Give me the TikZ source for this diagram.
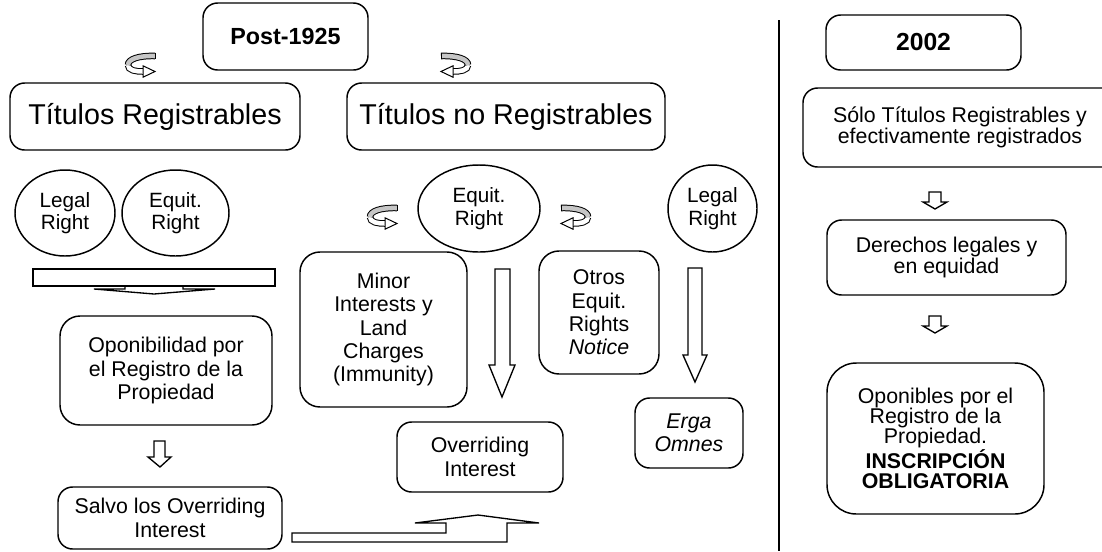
\documentclass[tikz,border=0pt]{standalone}
\usepackage{fontspec}
\setmainfont{Liberation Sans}
\usetikzlibrary{shapes.geometric}

% U-turn arrow: grey upper strand, white lower strand, open head
\newcommand{\uturnmark}[3]{%
  \begin{scope}[shift={(#1,#2)}, xscale=#3]
    \draw[line width=0.75pt, double=white, double distance=3.4pt]
      (-13,1) .. controls (-13,6.5) and (-5,7.5) .. (2,7.5);
    \draw[line width=0.75pt, double=gray!45, double distance=3.4pt]
      (14,-8) .. controls (-2,-8.5) and (-13,-5) .. (-13,1);
    \draw[line width=0.75pt] (14,-11.2) -- (14,-4.8);
    \draw[line width=0.75pt, fill=white, line join=miter] (2,1.8) -- (14,7.5) -- (2,13.2) -- cycle;
  \end{scope}}

\begin{document}
\begin{tikzpicture}[x=0.75pt, y=-0.75pt,
  every node/.style={inner sep=0pt, outer sep=0pt},
  box/.style={draw, line width=1.1pt, rounded corners=11pt, align=center,
    font=\fontsize{16}{17.5}\selectfont},
  rbox/.style={box, font=\fontsize{16}{15.5}\selectfont},
  titlebox/.style={box, font=\fontsize{21.5}{24}\selectfont,
    minimum height=50.25pt},
  yearbox/.style={box, font=\bfseries\fontsize{17.5}{20}\selectfont},
  oval/.style={draw, ellipse, line width=1.1pt, align=center,
    font=\fontsize{15.5}{17}\selectfont},
  blockarrow/.style={draw, line width=1pt, fill=white, line join=miter},
  divider/.style={line width=1.2pt},
]
\useasboundingbox (0,0) rectangle (1102,551);

% ---------- left part: post-1925 ----------
\node[yearbox, minimum width=123.75pt, minimum height=50.25pt] (post) at (285.5,36.5) {Post-1925};
\uturnmark{141}{64}{1}
\uturnmark{455}{64}{-1}

\node[titlebox, minimum width=217.5pt] (titR) at (155,116.5) {Títulos Registrables};
\node[titlebox, minimum width=238.5pt] (titN) at (506,116.5) {Títulos no Registrables};

\node[oval, minimum width=75pt, minimum height=64.5pt] (legL) at (65,213) {Legal\\Right};
\node[oval, minimum width=80.25pt, minimum height=64.5pt] (eqL) at (175.5,213) {Equit.\\Right};
\node[oval, minimum width=91.5pt, minimum height=65.25pt] (eqM) at (479,208.5) {Equit.\\Right};
\node[oval, minimum width=66.75pt, minimum height=65.25pt] (legR) at (712.5,208.5) {Legal\\Right};

\uturnmark{383}{216}{1}
\uturnmark{575}{216}{-1}

% bracket arrow under the registrable rights
\draw[blockarrow] (125,286) -- (125,289) -- (94,289) -- (154,294) -- (215,289) -- (183,289) -- (183,286);
\draw[blockarrow] (33,269) rectangle (275,286);

\node[box, rounded corners=15pt, minimum width=159pt, minimum height=81.75pt] (opL) at (166,370.5)
  {Oponibilidad por\\el Registro de la\\Propiedad};
\draw[blockarrow] (154,441) -- (165,441) -- (165,457) -- (171,457) -- (160,467) -- (148,457) -- (154,457) -- cycle;
\node[box, minimum width=168pt, minimum height=46.5pt] (salvo) at (170,518)
  {Salvo los Overriding\\Interest};

\node[box, rounded corners=15pt, minimum width=125.25pt, minimum height=116.25pt] (minor) at (383.5,329.5)
  {Minor\\Interests y\\Land\\Charges\\(Immunity)};
\draw[blockarrow] (495,269) -- (510,269) -- (510,365) -- (515,365) -- (502,397) -- (489,365) -- (495,365) -- cycle;
\node[box, rounded corners=15pt, minimum width=90pt, minimum height=92.25pt] (otros) at (599,312.5)
  {Otros\\Equit.\\Rights\\\textit{Notice}};
\draw[blockarrow] (688,268) -- (702,268) -- (702,355) -- (707,355) -- (695,382) -- (683,355) -- (688,355) -- cycle;
\node[box, minimum width=124.5pt, minimum height=52.5pt] (over) at (480,457) {Overriding\\Interest};
\node[box, minimum width=81pt, minimum height=52.5pt] (erga) at (689,433) {\textit{Erga}\\\textit{Omnes}};

% arrow back up to the overriding interests
\draw[blockarrow] (292,533) -- (446,533) -- (446,523) -- (415,523) -- (478,515) -- (539,523) -- (507,523) -- (507,542) -- (292,542) -- cycle;

% ---------- divider ----------
\coordinate (divtop) at (779,20);
\coordinate (divbot) at (779,551);
\draw[divider] (divtop) -- (divbot);

% ---------- right part: 2002 ----------
\node[yearbox, font=\bfseries\fontsize{18.5}{20}\selectfont, minimum width=146.25pt, minimum height=41.25pt] (y2002) at (923.5,42.5) {2002};
\node[rbox, minimum width=235.5pt, minimum height=59.25pt] (solo) at (960,127.5)
  {Sólo Títulos Registrables y\\efectivamente registrados};
\draw[blockarrow] (929,192) -- (941,192) -- (941,202) -- (947,202) -- (935,209) -- (923,202) -- (929,202) -- cycle;
\node[rbox, minimum width=179.25pt, minimum height=56.25pt] (der) at (946.5,257.5)
  {Derechos legales y\\en equidad};
\draw[blockarrow] (929,316) -- (941,316) -- (941,326) -- (947,326) -- (935,333) -- (923,326) -- (929,326) -- cycle;
\node[rbox, font=\fontsize{16}{15}\selectfont, rounded corners=22pt, minimum width=162.75pt, minimum height=113.25pt] (opo) at (935.5,438.5)
  {Oponibles por el\\Registro de la\\Propiedad.\\\textbf{INSCRIPCIÓN}\\\textbf{OBLIGATORIA}};
\end{tikzpicture}
\end{document}
